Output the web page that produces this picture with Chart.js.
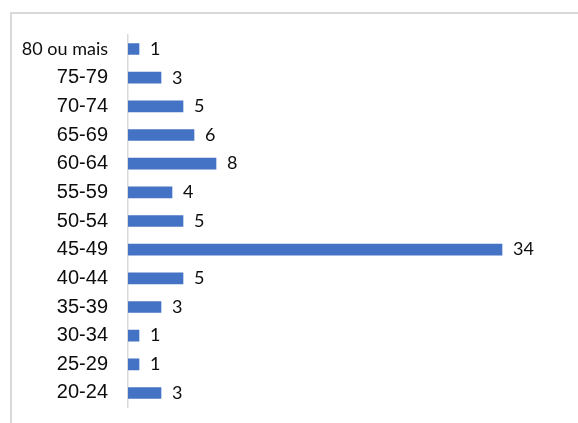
<!DOCTYPE html>
<html>
<head>
<meta charset="utf-8">
<script src="https://cdn.jsdelivr.net/npm/chart.js@4/dist/chart.umd.min.js"></script>
<style>
  html, body { margin: 0; padding: 0; background: #fff; overflow: hidden; }
  #wrap { position: relative; width: 578px; height: 423px; }
  #frame { position: absolute; left: 10px; top: 12px; width: 700px; height: 600px; border: 2px solid #d9d9d9; box-sizing: border-box; }
  canvas { position: absolute; left: 0; top: 0; }
</style>
</head>
<body>
<div id="wrap">
  <div id="frame"></div>
  <canvas id="chart" width="578" height="423"></canvas>
</div>
<script>
// faixas etárias, de cima para baixo
const faixas = ["80 ou mais", "75-79", "70-74", "65-69", "60-64", "55-59", "50-54",
                "45-49", "40-44", "35-39", "30-34", "25-29", "20-24"];
const quantidade = [1, 3, 5, 6, 8, 4, 5, 34, 5, 3, 1, 1, 3];
const eixoMax = 40;

// escreve o valor ao lado de cada barra
const rotulos = {
  id: "rotulos",
  afterDatasetsDraw(chart) {
    const ctx = chart.ctx;
    const meta = chart.getDatasetMeta(0);
    ctx.save();
    ctx.font = "18px Lato";
    ctx.fillStyle = "#0d0d0d";
    ctx.textAlign = "left";
    ctx.textBaseline = "middle";
    meta.data.forEach((bar, i) => {
      ctx.fillText(String(quantidade[i]), bar.x + 11, bar.y);
    });
    ctx.restore();
  }
};

new Chart(document.getElementById("chart").getContext("2d"), {
  type: "bar",
  data: {
    labels: faixas,
    datasets: [{
      data: quantidade,
      backgroundColor: "#4472C4",
      barThickness: 11
    }]
  },
  options: {
    indexAxis: "y",
    responsive: false,
    animation: false,
    layout: { padding: { top: 34.7, bottom: 15.7, left: 0, right: 10 } },
    plugins: { legend: { display: false }, tooltip: { enabled: false } },
    scales: {
      x: { display: false, min: 0, max: eixoMax },
      y: {
        // largura fixa do eixo e sem folga extra acima/abaixo
        afterFit: (scale) => {
          scale.width = 128;
          scale.paddingTop = 0;
          scale.paddingBottom = 0;
        },
        grid: { display: false, drawTicks: false },
        border: { display: true, color: "#d9d9d9", width: 1.5 },
        ticks: {
          padding: 20,
          color: "#0d0d0d",
          font: (c) => c.index === 0
            ? { family: "Lato", size: 18 }
            : { family: "Liberation Sans", size: 20 }
        }
      }
    }
  },
  plugins: [rotulos]
});
</script>
</body>
</html>
